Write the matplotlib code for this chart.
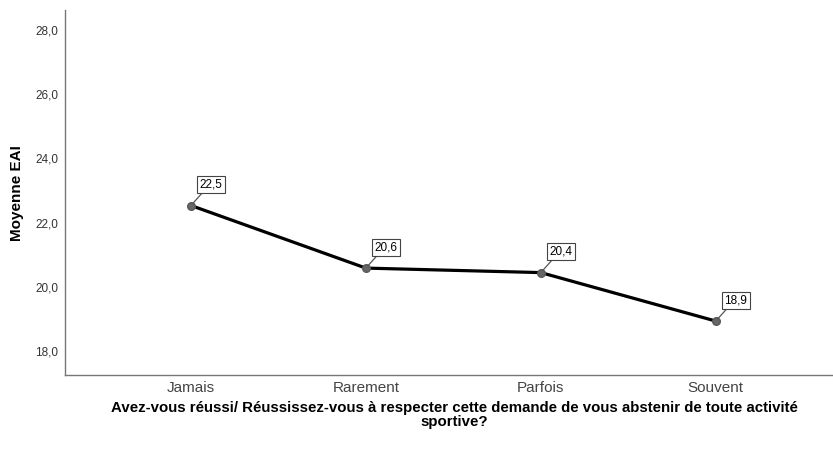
import matplotlib
matplotlib.use("Agg")
import matplotlib.pyplot as plt

categories = ["Jamais", "Rarement", "Parfois", "Souvent"]
means = [22.53, 20.58, 20.44, 18.93]
labels = ["22,5", "20,6", "20,4", "18,9"]
yticks = [18, 20, 22, 24, 26, 28]
ytick_labels = ["18,0", "20,0", "22,0", "24,0", "26,0", "28,0"]

plt.rcParams['font.family'] = ['Liberation Sans', 'DejaVu Sans']

fig = plt.figure(figsize=(8.33, 4.49), dpi=100)
ax = fig.add_axes([65/833, 1-375/449, (833-65)/833, (375-10)/449])

x = list(range(len(categories)))
ax.plot(x, means, color='black', lw=2.3, zorder=2)
ax.plot(x, means, 'o', color='#666666', ms=5.5, mec='#5a5a5a', zorder=3)

for xi, yi, lab in zip(x, means, labels):
    ax.annotate(lab, xy=(xi, yi), xytext=(14.5, 15), textcoords='offset points',
                ha='center', va='center', fontsize=8.5,
                bbox=dict(boxstyle='square,pad=0.22', fc='white', ec='#444444', lw=0.8),
                arrowprops=dict(arrowstyle='-', color='#555555', lw=0.9,
                                shrinkA=0, shrinkB=2, relpos=(0.2, 0.0)),
                zorder=4)

ax.set_xlim(-0.72, 3.67)
ax.set_ylim(17.25, 28.62)
ax.set_xticks(x)
ax.set_xticklabels(categories, fontsize=11, color='#444444')
ax.set_yticks(yticks)
ax.set_yticklabels(ytick_labels, fontsize=8.5, color='#333333')
ax.tick_params(axis='both', length=0)
ax.tick_params(axis='x', pad=4)
ax.tick_params(axis='y', pad=5)

for s in ['top', 'right']:
    ax.spines[s].set_visible(False)
for s in ['left', 'bottom']:
    ax.spines[s].set_color('#777777')
    ax.spines[s].set_linewidth(1.0)

fig.text(17/833, 1-193/449, "Moyenne EAI", rotation=90, ha='center', va='center',
         fontsize=11, fontweight='bold')
fig.text(454/833, 1-415/449,
         "Avez-vous réussi/ Réussissez-vous à respecter cette demande de vous abstenir de toute activité\nsportive?",
         ha='center', va='center', fontsize=10.8, fontweight='bold', linespacing=0.98)

fig.savefig("out.png", dpi=100)
